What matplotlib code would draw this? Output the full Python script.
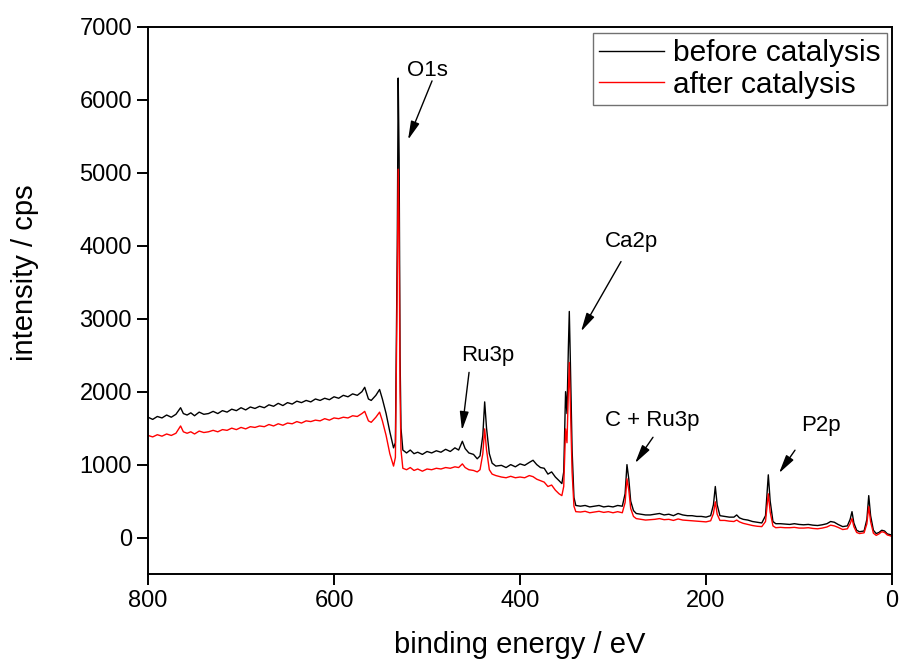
import matplotlib

matplotlib.use("Agg")
import matplotlib.pyplot as plt
import numpy as np

plt.rcParams["font.family"] = ["Liberation Sans", "DejaVu Sans"]

# binding energy (eV) / intensity (cps)
before_energy = [
    800, 795, 790, 785, 780, 775, 770, 765, 762, 758, 754, 750, 745, 740, 735, 730,
    725, 720, 715, 710, 705, 700, 695, 690, 685, 680, 675, 670, 665, 660, 655, 650,
    645, 640, 635, 630, 625, 620, 615, 610, 605, 600, 595, 590, 585, 580, 575, 570,
    567, 563, 560, 555, 551, 548, 544, 540, 536, 534, 532, 531, 530, 529, 528, 526,
    522, 518, 514, 510, 505, 500, 495, 490, 485, 480, 475, 470, 466, 462, 459, 455,
    450, 446, 443, 440, 438, 436, 433, 430, 426, 420, 415, 410, 405, 400, 395, 390,
    386, 382, 378, 374, 370, 366, 362, 358, 355, 353, 351, 349.5, 348, 347, 346, 344,
    342, 340, 335, 330, 325, 320, 315, 310, 305, 300, 295, 290, 287, 285, 283, 281,
    278, 275, 270, 265, 260, 255, 250, 245, 240, 235, 230, 225, 220, 215, 210, 205,
    200, 195, 192, 190, 188, 185, 180, 175, 170, 167, 164, 160, 155, 150, 145, 140,
    136, 133, 131, 128, 125, 120, 115, 110, 105, 100, 95, 90, 85, 80, 75, 70,
    66, 62, 58, 53, 48, 45, 43, 41, 38, 35, 30, 27, 25, 23, 20, 17,
    14, 11, 8, 5, 2, 0,
]
before_counts = [
    1650, 1620, 1660, 1640, 1680, 1650, 1690, 1780, 1700, 1680, 1710, 1670, 1720, 1690, 1700, 1730,
    1700, 1740, 1720, 1760, 1740, 1780, 1750, 1790, 1770, 1800, 1780, 1820, 1800, 1840, 1810, 1850,
    1830, 1870, 1850, 1880, 1860, 1900, 1880, 1910, 1890, 1930, 1910, 1950, 1930, 1970, 1950, 2000,
    2060, 1900, 1880, 1950, 2030, 1900, 1700, 1450, 1230, 1300, 4000, 6300, 5200, 2500, 1500, 1200,
    1160, 1200, 1150, 1170, 1140, 1180, 1160, 1190, 1170, 1210, 1180, 1230, 1200, 1320, 1220, 1160,
    1140, 1080, 1120, 1400, 1860, 1500, 1150, 1020, 980, 990, 960, 1000, 970, 1010, 990, 1030,
    1060, 1000, 960, 950, 870, 900, 830, 780, 740, 900, 2000, 1700, 2600, 3100, 2500, 1200,
    550, 440, 430, 440, 420, 430, 440, 420, 430, 420, 440, 430, 600, 1000, 800, 500,
    370, 330, 320, 310, 310, 320, 330, 310, 320, 300, 330, 310, 300, 300, 290, 290,
    280, 300, 450, 700, 450, 300, 290, 280, 280, 310, 270, 250, 240, 220, 210, 200,
    300, 860, 500, 220, 190, 190, 185, 180, 190, 180, 175, 180, 170, 165, 175, 190,
    220, 210, 180, 150, 160, 250, 355, 200, 100, 80, 90, 250, 575, 300, 100, 55,
    70, 100, 90, 50, 40, 30,
]
after_energy = before_energy
after_counts = [
    1400, 1380, 1410, 1390, 1420, 1400, 1430, 1530, 1450, 1430, 1450, 1420, 1460, 1440, 1450, 1470,
    1450, 1480, 1470, 1500, 1480, 1510, 1490, 1520, 1510, 1530, 1520, 1550, 1530, 1560, 1540, 1570,
    1560, 1590, 1570, 1600, 1590, 1610, 1600, 1630, 1610, 1640, 1630, 1650, 1640, 1670, 1660, 1700,
    1730, 1600, 1580, 1650, 1720, 1600, 1400, 1150, 980, 1100, 3500, 5050, 4200, 2000, 1200, 950,
    930, 960, 920, 940, 910, 940, 930, 950, 940, 960, 950, 970, 960, 1010, 960, 930,
    920, 900, 930, 1150, 1490, 1200, 930, 870, 850, 830, 820, 840, 820, 830, 820, 850,
    835, 800, 780, 760, 700, 720, 650, 600, 575, 700, 1490, 1300, 2000, 2400, 1900, 900,
    430, 355, 350, 360, 340, 350, 360, 345, 355, 340, 355, 340, 480, 807, 650, 400,
    290, 260, 250, 240, 245, 250, 260, 245, 250, 235, 255, 240, 235, 230, 225, 220,
    215, 230, 330, 490, 320, 235, 235, 225, 220, 240, 215, 195, 180, 165, 155, 150,
    220, 600, 350, 160, 135, 140, 135, 135, 140, 130, 130, 135, 125, 120, 130, 145,
    170, 160, 140, 110, 120, 190, 260, 150, 70, 55, 65, 190, 425, 220, 60, 30,
    50, 80, 70, 35, 25, 15,
]

# peak labels: text position, arrow start, arrow tip (eV, cps)
peak_labels = ["O1s", "Ru3p", "Ca2p", "C + Ru3p", "P2p"]
label_pos = [(500, 6400), (435, 2500), (280, 4060), (258, 1610), (76, 1540)]
arrow_from = [(494.6, 6261), (454.8, 2265), (291.4, 3784), (257, 1375), (104.3, 1198)]
arrow_to = [(520.4, 5454), (462.4, 1471), (334.4, 2826), (276.3, 1020), (121.5, 883)]

fig = plt.figure(figsize=(9.01, 6.65), dpi=100)
ax = fig.add_axes([0.1643, 0.1368, 0.8257, 0.8226])

ax.plot(before_energy, before_counts, color="black", lw=1.0, label="before catalysis")
ax.plot(after_energy, after_counts, color="red", lw=1.0, label="after catalysis")

for name, pos, start, tip in zip(peak_labels, label_pos, arrow_from, arrow_to):
    ax.text(pos[0], pos[1], name, fontsize=16, ha="center", va="center")
    ax.annotate(
        "", xy=tip, xytext=start,
        arrowprops=dict(arrowstyle="-|>,head_length=0.75,head_width=0.18",
                        color="black", lw=1.0, shrinkA=0, shrinkB=0,
                        mutation_scale=15),
    )

ax.set_xlim(800, 0)
ax.set_ylim(-500, 7000)
ax.set_xticks(np.arange(800, -1, -200))
ax.set_yticks(np.arange(0, 7001, 1000))
ax.set_xlabel("binding energy / eV", fontsize=21, labelpad=14)
ax.set_ylabel("intensity / cps", fontsize=21)
ax.yaxis.set_label_coords(-0.146, 0.55)
ax.tick_params(axis="both", direction="out", length=8, width=1.4, labelsize=17,
               top=False, right=False)
for spine in ax.spines.values():
    spine.set_linewidth(1.4)

leg = ax.legend(loc="upper right", bbox_to_anchor=(0.993, 0.989), borderaxespad=0,
                fontsize=21.5, frameon=True, fancybox=False, edgecolor="0.3",
                handlelength=2.2, handletextpad=0.3, labelspacing=0.12,
                borderpad=0.2)
leg.get_frame().set_linewidth(1.0)

fig.savefig("out.png", dpi=100)
